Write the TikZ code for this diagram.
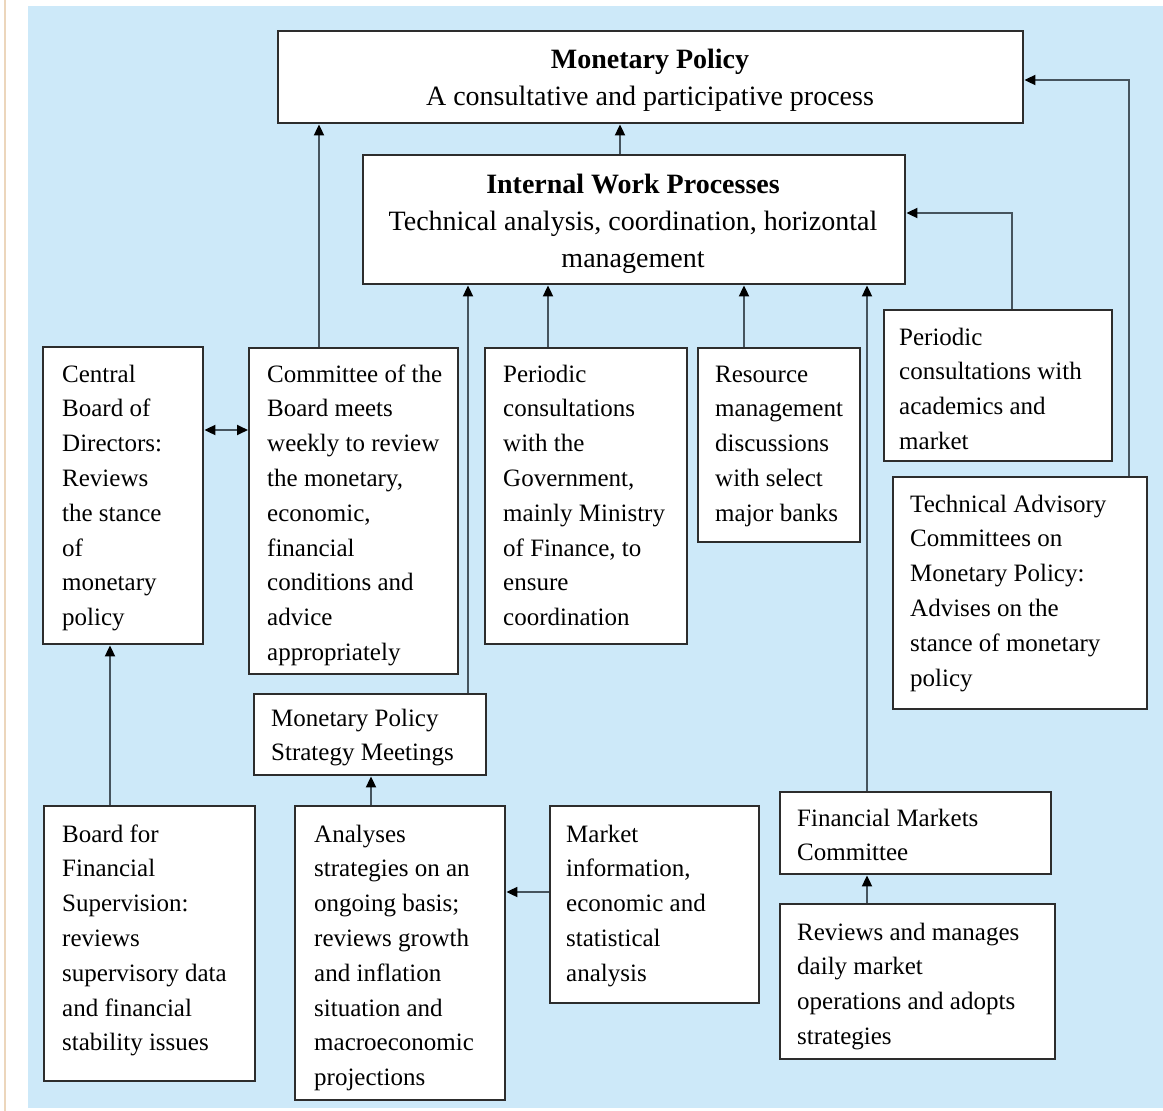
\documentclass[tikz,border=0pt]{standalone}
\usepackage{fontspec}
\setmainfont{Liberation Serif}
\usetikzlibrary{arrows.meta}
\definecolor{bgblue}{RGB}{205,233,249}
\definecolor{linec}{RGB}{70,84,94}
\definecolor{boxc}{RGB}{45,45,45}
\definecolor{beigec}{RGB}{236,214,188}
\newcommand{\lefttext}[1]{\parbox[t]{240pt}{\raggedright #1}}
\newcommand{\centtext}[1]{\parbox[t]{600pt}{\centering #1}}
\begin{document}
\begin{tikzpicture}[x=1pt,y=-1pt,
  bx/.style={draw=boxc, line width=2.4pt, fill=white, inner sep=0pt, anchor=north west},
  txt/.style={anchor=base west, inner sep=0pt, font=\fontsize{25}{34.8}\selectfont},
  ttl/.style={anchor=base, inner sep=0pt, font=\fontsize{28}{37}\selectfont},
  arr/.style={draw=linec, line width=1.8pt, -{Triangle[length=11pt,width=10pt,color=black]}},
  darr/.style={draw=linec, line width=1.8pt, {Triangle[length=11pt,width=10pt,color=black]}-{Triangle[length=11pt,width=10pt,color=black]}}]
\useasboundingbox (0,0) rectangle (1163,1111);
\fill[white] (0,0) rectangle (1163,1111);
\fill[bgblue] (28,6) rectangle (1163,1108);
\draw[beigec, line width=2pt] (5,0) -- (5,1111);

% boxes
\node[bx, minimum width=745pt, minimum height=92pt] (mp) at (277,30) {};
\node[bx, minimum width=542pt, minimum height=129pt] (iwp) at (362,154) {};
\node[bx, minimum width=160pt, minimum height=297pt] (cb) at (42,346) {};
\node[bx, minimum width=209pt, minimum height=326pt] (cm) at (248,347) {};
\node[bx, minimum width=202pt, minimum height=296pt] (pg) at (484,347) {};
\node[bx, minimum width=162pt, minimum height=194pt] (rs) at (697,347) {};
\node[bx, minimum width=228pt, minimum height=151pt] (pa) at (883,309) {};
\node[bx, minimum width=254pt, minimum height=232pt] (ta) at (892,476) {};
\node[bx, minimum width=232pt, minimum height=81pt] (mpsm) at (253,693) {};
\node[bx, minimum width=211pt, minimum height=275pt] (bfs) at (43,805) {};
\node[bx, minimum width=210pt, minimum height=294pt] (an) at (294,805) {};
\node[bx, minimum width=209pt, minimum height=197pt] (mi) at (549,805) {};
\node[bx, minimum width=271pt, minimum height=82pt] (fmc) at (779,791) {};
\node[bx, minimum width=275pt, minimum height=155pt] (rm) at (779,903) {};

% texts
\node[ttl] (mpt) at ([shift={(373,38)}]mp.north west) {\centtext{\textbf{Monetary Policy}\\A consultative and participative process}};
\node[ttl] (iwpt) at ([shift={(271,39)}]iwp.north west) {\centtext{\textbf{Internal Work Processes}\\Technical analysis, coordination, horizontal\\management}};
\node[txt] (cbt) at ([shift={(20,36)}]cb.north west) {\lefttext{Central\\Board of\\Directors:\\Reviews\\the stance\\of\\monetary\\policy}};
\node[txt] (cmt) at ([shift={(19,35)}]cm.north west) {\lefttext{Committee of the\\Board meets\\weekly to review\\the monetary,\\economic,\\financial\\conditions and\\advice\\appropriately}};
\node[txt] (pgt) at ([shift={(19,35)}]pg.north west) {\lefttext{Periodic\\consultations\\with the\\Government,\\mainly Ministry\\of Finance, to\\ensure\\coordination}};
\node[txt] (rst) at ([shift={(18,35)}]rs.north west) {\lefttext{Resource\\management\\discussions\\with select\\major banks}};
\node[txt] (pat) at ([shift={(16,36)}]pa.north west) {\lefttext{Periodic\\consultations with\\academics and\\market}};
\node[txt] (tat) at ([shift={(18,36)}]ta.north west) {\lefttext{Technical Advisory\\Committees on\\Monetary Policy:\\Advises on the\\stance of monetary\\policy}};
\node[txt] (mpsmt) at ([shift={(18,33)}]mpsm.north west) {\lefttext{Monetary Policy\\Strategy Meetings}};
\node[txt] (bfst) at ([shift={(19,37)}]bfs.north west) {\lefttext{Board for\\Financial\\Supervision:\\reviews\\supervisory data\\and financial\\stability issues}};
\node[txt] (ant) at ([shift={(20,37)}]an.north west) {\lefttext{Analyses\\strategies on an\\ongoing basis;\\reviews growth\\and inflation\\situation and\\macroeconomic\\projections}};
\node[txt] (mit) at ([shift={(17,37)}]mi.north west) {\lefttext{Market\\information,\\economic and\\statistical\\analysis}};
\node[txt] (fmct) at ([shift={(18,35)}]fmc.north west) {\lefttext{Financial Markets\\Committee}};
\node[txt] (rmt) at ([shift={(18,37)}]rm.north west) {\lefttext{Reviews and manages\\daily market\\operations and adopts\\strategies}};

% guide coordinates
\coordinate (x110) at (110,0);
\coordinate (x319) at (319,0);
\coordinate (x371) at (371,0);
\coordinate (x468) at (468,0);
\coordinate (x548) at (548,0);
\coordinate (x620) at (620,0);
\coordinate (x744) at (744,0);
\coordinate (x867) at (867,0);
\coordinate (x1012) at (1012,0);
\coordinate (x1129) at (1129,0);
\coordinate (y80) at (0,80);
\coordinate (y213) at (0,213);
\coordinate (y430) at (0,430);
\coordinate (y892) at (0,892);

% connectors
\draw[arr] (iwp.north -| x620) -- (mp.south -| x620);
\draw[arr] (cm.north -| x319) -- (mp.south -| x319);
\draw[darr] (cb.east |- y430) -- (cm.west |- y430);
\draw[arr] (mpsm.north -| x468) -- (iwp.south -| x468);
\draw[arr] (pg.north -| x548) -- (iwp.south -| x548);
\draw[arr] (rs.north -| x744) -- (iwp.south -| x744);
\draw[arr] (fmc.north -| x867) -- (iwp.south -| x867);
\draw[arr] (pa.north -| x1012) |- (iwp.east |- y213);
\draw[arr] (ta.north -| x1129) |- (mp.east |- y80);
\draw[arr] (bfs.north -| x110) -- (cb.south -| x110);
\draw[arr] (an.north -| x371) -- (mpsm.south -| x371);
\draw[arr] (mi.west |- y892) -- (an.east |- y892);
\draw[arr] (rm.north -| x867) -- (fmc.south -| x867);
\end{tikzpicture}
\end{document}
